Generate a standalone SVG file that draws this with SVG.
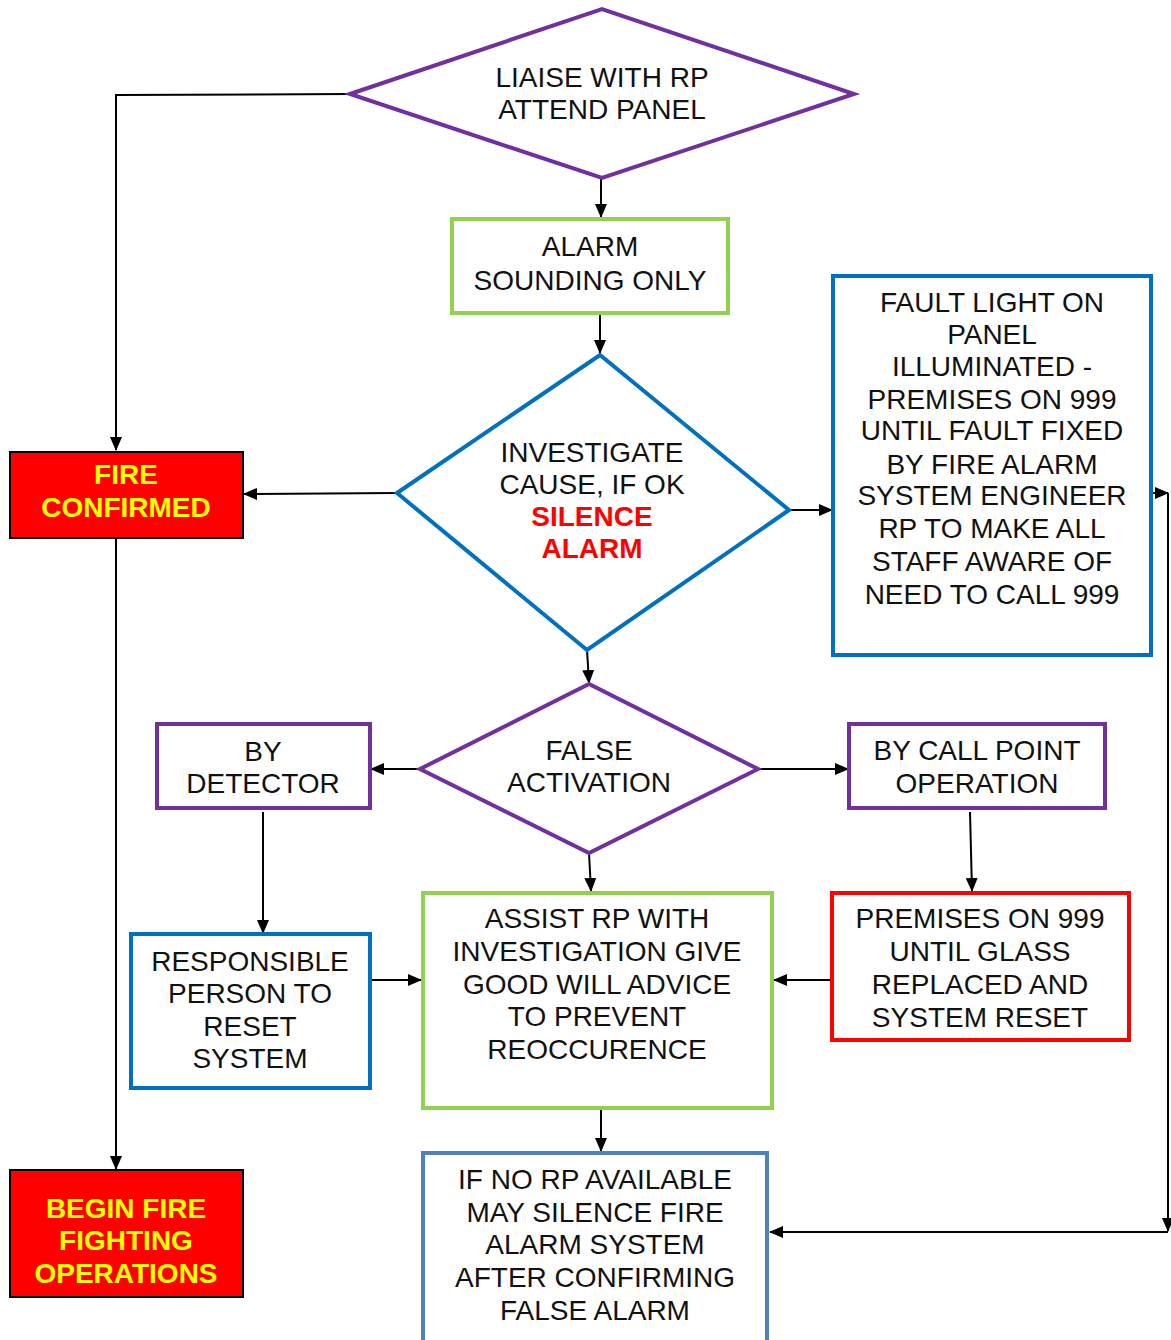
<svg xmlns="http://www.w3.org/2000/svg" width="1171" height="1340" viewBox="0 0 1171 1340">
<defs>
<marker id="ah" markerWidth="14" markerHeight="12" refX="13" refY="6" orient="auto" markerUnits="userSpaceOnUse">
<path d="M0,0 L14,6 L0,12 Z" fill="#000"/>
</marker>
<style>
.t{font-family:"Liberation Sans",Arial,sans-serif;font-size:28px;fill:#111;text-anchor:middle}
.b{font-weight:bold}
.y{fill:#FFFF00}
.r{fill:#FF0000}
.pur{fill:#fff;stroke:#7030A0;stroke-width:4}
.grn{fill:#fff;stroke:#92D050;stroke-width:4}
.blu{fill:#fff;stroke:#0070C0;stroke-width:4}
.blu2{fill:#fff;stroke:#4F81BD;stroke-width:4}
.red{fill:#fff;stroke:#FF0000;stroke-width:4}
.fire{fill:#FF0000;stroke:#000;stroke-width:2}
.c{fill:none;stroke:#000;stroke-width:2}
</style>
</defs>
<rect width="1171" height="1340" fill="#fff"/>
<g id="connectors">
<path class="c" d="M350,94 L116,95 L116,450" marker-end="url(#ah)"/>
<path class="c" d="M601,178 L601,217" marker-end="url(#ah)"/>
<path class="c" d="M600,313 L600,353" marker-end="url(#ah)"/>
<path class="c" d="M397,493 L244,494" marker-end="url(#ah)"/>
<path class="c" d="M116,538 L116,1169" marker-end="url(#ah)"/>
<path class="c" d="M789,510 L832,510" marker-end="url(#ah)"/>
<path class="c" d="M587,650 L589,683" marker-end="url(#ah)"/>
<path class="c" d="M420,769 L371,769" marker-end="url(#ah)"/>
<path class="c" d="M758,769 L848,769" marker-end="url(#ah)"/>
<path class="c" d="M263,812 L263,933" marker-end="url(#ah)"/>
<path class="c" d="M370,980 L421,980" marker-end="url(#ah)"/>
<path class="c" d="M589,853 L591,891" marker-end="url(#ah)"/>
<path class="c" d="M970,812 L972,891" marker-end="url(#ah)"/>
<path class="c" d="M832,980 L774,980" marker-end="url(#ah)"/>
<path class="c" d="M601,1108 L601,1151" marker-end="url(#ah)"/>
<path class="c" d="M1152,493 L1168,493" marker-end="url(#ah)"/>
<path class="c" d="M1168,493 L1168,1231" marker-end="url(#ah)"/>
<path class="c" d="M1168,1232 L770,1232" marker-end="url(#ah)"/>
</g>
<g id="liaise">
<polygon class="pur" points="350,94 602,9 854,94 602,178"/>
<text class="t" x="602" y="87">LIAISE WITH RP</text>
<text class="t" x="602" y="119">ATTEND PANEL</text>
</g>
<g id="alarm-sounding">
<rect class="grn" x="452" y="219" width="276" height="94"/>
<text class="t" x="590" y="256">ALARM</text>
<text class="t" x="590" y="290">SOUNDING ONLY</text>
</g>
<g id="investigate">
<polygon class="blu" points="397,493 600,355 789,510 587,650"/>
<text class="t" x="592" y="462">INVESTIGATE</text>
<text class="t" x="592" y="494">CAUSE, IF OK</text>
<text class="t b r" x="592" y="526">SILENCE</text>
<text class="t b r" x="592" y="558">ALARM</text>
</g>
<g id="fire-confirmed">
<rect class="fire" x="10" y="452" width="233" height="86"/>
<text class="t b y" x="126" y="484">FIRE</text>
<text class="t b y" x="126" y="517">CONFIRMED</text>
</g>
<g id="fault-light">
<rect class="blu" x="833" y="276" width="318" height="379"/>
<text class="t" x="992" y="312">FAULT LIGHT ON</text>
<text class="t" x="992" y="344">PANEL</text>
<text class="t" x="992" y="376">ILLUMINATED -</text>
<text class="t" x="992" y="409">PREMISES ON 999</text>
<text class="t" x="992" y="440">UNTIL FAULT FIXED</text>
<text class="t" x="992" y="474">BY FIRE ALARM</text>
<text class="t" x="992" y="505">SYSTEM ENGINEER</text>
<text class="t" x="992" y="538">RP TO MAKE ALL</text>
<text class="t" x="992" y="571">STAFF AWARE OF</text>
<text class="t" x="992" y="604">NEED TO CALL 999</text>
</g>
<g id="false-activation">
<polygon class="pur" points="420,769 589,684 758,769 589,853"/>
<text class="t" x="589" y="760">FALSE</text>
<text class="t" x="589" y="792">ACTIVATION</text>
</g>
<g id="by-detector">
<rect class="pur" x="157" y="724" width="213" height="84"/>
<text class="t" x="263" y="761">BY</text>
<text class="t" x="263" y="793">DETECTOR</text>
</g>
<g id="by-call-point">
<rect class="pur" x="849" y="724" width="256" height="84"/>
<text class="t" x="977" y="760">BY CALL POINT</text>
<text class="t" x="977" y="793">OPERATION</text>
</g>
<g id="responsible">
<rect class="blu" x="131" y="934" width="239" height="154"/>
<text class="t" x="250" y="971">RESPONSIBLE</text>
<text class="t" x="250" y="1003">PERSON TO</text>
<text class="t" x="250" y="1036">RESET</text>
<text class="t" x="250" y="1068">SYSTEM</text>
</g>
<g id="assist">
<rect class="grn" x="423" y="893" width="349" height="215"/>
<text class="t" x="597" y="928">ASSIST RP WITH</text>
<text class="t" x="597" y="961">INVESTIGATION GIVE</text>
<text class="t" x="597" y="994">GOOD WILL ADVICE</text>
<text class="t" x="597" y="1026">TO PREVENT</text>
<text class="t" x="597" y="1059">REOCCURENCE</text>
</g>
<g id="premises-glass">
<rect class="red" x="832" y="893" width="297" height="147"/>
<text class="t" x="980" y="928">PREMISES ON 999</text>
<text class="t" x="980" y="961">UNTIL GLASS</text>
<text class="t" x="980" y="994">REPLACED AND</text>
<text class="t" x="980" y="1027">SYSTEM RESET</text>
</g>
<g id="begin-fire">
<rect class="fire" x="10" y="1170" width="233" height="127"/>
<text class="t b y" x="126" y="1218">BEGIN FIRE</text>
<text class="t b y" x="126" y="1250">FIGHTING</text>
<text class="t b y" x="126" y="1283">OPERATIONS</text>
</g>
<g id="no-rp">
<rect class="blu2" x="423" y="1153" width="344" height="190"/>
<text class="t" x="595" y="1189">IF NO RP AVAILABLE</text>
<text class="t" x="595" y="1222">MAY SILENCE FIRE</text>
<text class="t" x="595" y="1254">ALARM SYSTEM</text>
<text class="t" x="595" y="1287">AFTER CONFIRMING</text>
<text class="t" x="595" y="1320">FALSE ALARM</text>
</g>
</svg>
